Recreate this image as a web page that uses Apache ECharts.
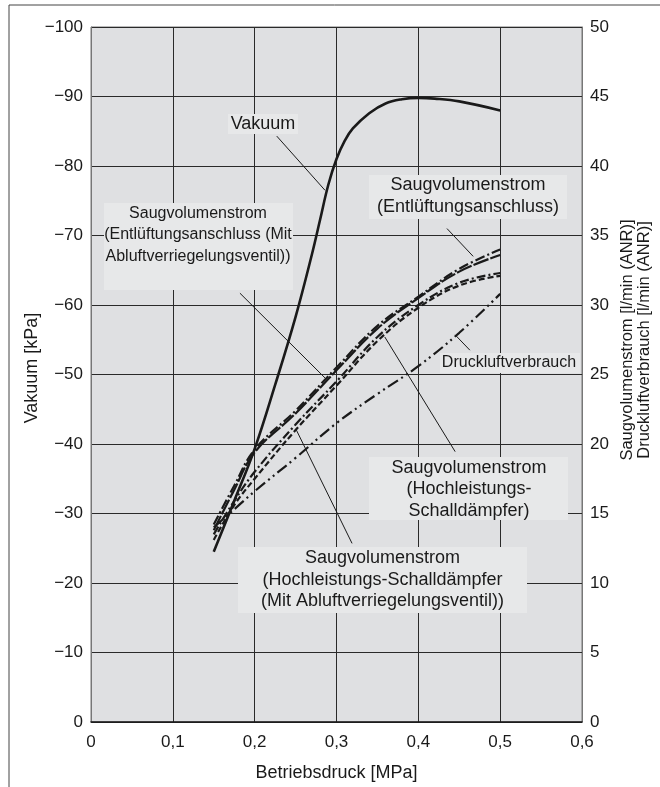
<!DOCTYPE html>
<html>
<head>
<meta charset="utf-8">
<script src="https://cdn.jsdelivr.net/npm/echarts@6/dist/echarts.min.js"></script>
<style>
  html, body { margin: 0; padding: 0; background: #fff; }
  #chart { width: 660px; height: 787px; }
</style>
</head>
<body>
<div id="chart"></div>
<script>
// Betriebsdruck [MPa]
const vakPressure = [0.15, 0.175, 0.2, 0.225, 0.25, 0.27, 0.28, 0.29, 0.3, 0.31, 0.32, 0.34, 0.36, 0.38, 0.4, 0.42, 0.45, 0.5];
// Vakuum [kPa]
const vakuum = [-24.5, -31.8, -39.3, -48.5, -58.3, -67.3, -72.3, -77.3, -81, -83.6, -85.4, -87.6, -89, -89.6, -89.8, -89.7, -89.3, -88];

// Saugvolumenstrom / Druckluftverbrauch [l/min (ANR)]
const flowPressure = [0.15, 0.175, 0.2, 0.25, 0.3, 0.35, 0.4, 0.45, 0.5];
const saugEntl = [14.2, 17.0, 19.6, 22.4, 25.5, 28.5, 30.6, 32.6, 34.0];
const saugEntlVentil = [13.8, 16.7, 19.4, 22.2, 25.3, 28.3, 30.5, 32.4, 33.6];
const saugHoch = [13.5, 15.9, 18.0, 21.4, 24.5, 27.7, 30.0, 31.6, 32.3];
const saugHochVentil = [13.1, 15.6, 17.5, 21.0, 24.2, 27.4, 29.8, 31.4, 32.1];
const druckluft = [14.0, 15.3, 16.6, 19.0, 21.5, 23.6, 25.6, 28.0, 30.8];

const xTicks = [0, 0.1, 0.2, 0.3, 0.4, 0.5, 0.6];

const pair = (xs, ys) => xs.map((x, i) => [x, ys[i]]);
const FONT = '"Liberation Sans", Arial, sans-serif';
const INK = '#1a1a1a';

const chart = echarts.init(document.getElementById('chart'));

const flowLine = (name, data, dash) => ({
  name,
  type: 'line',
  yAxisIndex: 1,
  data,
  smooth: 0.4,
  symbol: 'none',
  lineStyle: { color: INK, width: 2.2, type: dash },
  z: 3
});

// Text boxes of the annotations (pixel layout)
const box = (x, y, w, h) => ({
  type: 'rect', z: 1,
  shape: { x, y, width: w, height: h },
  style: { fill: '#e7e8e9' }
});
const label = (cx, cy, text, size, lh) => ({
  type: 'text', z: 2,
  x: cx, y: cy,
  style: {
    text, fill: INK, font: size + 'px ' + FONT,
    align: 'center', verticalAlign: 'middle', lineHeight: lh
  }
});

const option = {
  animation: false,
  backgroundColor: '#fff',
  grid: {
    left: 91, right: 78, top: 27, bottom: 65,
    show: true, backgroundColor: '#dfe0e2', borderColor: '#777', borderWidth: 1
  },
  xAxis: {
    type: 'value', min: 0, max: 0.6, interval: 0.1,
    name: 'Betriebsdruck [MPa]', nameLocation: 'middle', nameGap: 42,
    nameTextStyle: { color: INK, fontSize: 18, fontFamily: FONT },
    axisLine: { show: true, lineStyle: { color: INK, width: 1.5 } },
    axisTick: { show: false },
    axisLabel: {
      color: INK, fontSize: 17, fontFamily: FONT, margin: 12,
      formatter: v => (v === 0 ? '0' : v.toFixed(1).replace('.', ','))
    },
    splitLine: { show: true, lineStyle: { color: '#2a2a2a', width: 1 } }
  },
  yAxis: [
    {
      type: 'value', min: -100, max: 0, interval: 10, inverse: true,
      axisLine: { show: true, lineStyle: { color: '#777' } },
      axisTick: { show: false },
      axisLabel: {
        color: INK, fontSize: 17, fontFamily: FONT, margin: 8,
        formatter: v => (v === 0 ? '0' : String(v).replace('-', '\u2212'))
      },
      splitLine: { show: true, lineStyle: { color: '#2a2a2a', width: 1 } }
    },
    {
      type: 'value', min: 0, max: 50, interval: 5, position: 'right',
      axisLine: { show: true, lineStyle: { color: '#777' } },
      axisTick: { show: false },
      axisLabel: { color: INK, fontSize: 17, fontFamily: FONT, margin: 8 },
      splitLine: { show: false }
    }
  ],
  series: [
    {
      name: 'Vakuum',
      type: 'line',
      yAxisIndex: 0,
      data: pair(vakPressure, vakuum),
      smooth: 0.4,
      symbol: 'none',
      lineStyle: { color: INK, width: 2.6 },
      z: 3,
      // pointer lines from the annotation boxes, in kPa / MPa
      markLine: {
        silent: true,
        symbol: 'none',
        label: { show: false },
        lineStyle: { color: INK, width: 1, type: 'solid' },
        data: [
          [{ coord: [0.227, -84.3] }, { coord: [0.286, -76.5] }],
          [{ coord: [0.435, -71.0] }, { coord: [0.467, -67.0] }],
          [{ coord: [0.182, -61.7] }, { coord: [0.286, -49.5] }],
          [{ coord: [0.463, -53.5] }, { coord: [0.445, -55.7] }],
          [{ coord: [0.445, -38.9] }, { coord: [0.359, -55.4] }],
          [{ coord: [0.319, -25.7] }, { coord: [0.251, -42.0] }]
        ]
      }
    },
    flowLine('Saugvolumenstrom (Entlüftungsanschluss)', pair(flowPressure, saugEntl), [10, 3, 2, 3]),
    flowLine('Saugvolumenstrom (Entlüftungsanschluss, Mit Abluftverriegelungsventil)', pair(flowPressure, saugEntlVentil), [16, 2]),
    flowLine('Saugvolumenstrom (Hochleistungs-Schalldämpfer)', pair(flowPressure, saugHoch), [9, 3, 2, 3]),
    flowLine('Saugvolumenstrom (Hochleistungs-Schalldämpfer, Mit Abluftverriegelungsventil)', pair(flowPressure, saugHochVentil), [6, 3]),
    flowLine('Druckluftverbrauch', pair(flowPressure, druckluft), [12, 4, 2, 4, 2, 4])
  ],
  graphic: [
    // outer frame
    { type: 'line', shape: { x1: 9, y1: 5, x2: 660, y2: 5 }, style: { stroke: '#444', lineWidth: 1 } },
    { type: 'line', shape: { x1: 9, y1: 5, x2: 9, y2: 787 }, style: { stroke: '#444', lineWidth: 1 } },

    box(228, 114, 70, 20),
    label(263, 124, 'Vakuum', 18, 22),

    box(369, 175, 198, 44),
    label(468, 196, 'Saugvolumenstrom\n(Entlüftungsanschluss)', 18, 22),

    box(104, 203, 189, 87),
    label(198, 235, 'Saugvolumenstrom\n(Entlüftungsanschluss (Mit\nAbluftverriegelungsventil))', 16, 21.7),

    box(440, 353, 140, 20),
    label(509, 363, 'Druckluftverbrauch', 16, 20),

    box(369, 457, 199, 63),
    label(469, 489.5, 'Saugvolumenstrom\n(Hochleistungs-\nSchalldämpfer)', 18, 21.5),

    box(238, 547, 289, 66),
    label(382.5, 580, 'Saugvolumenstrom\n(Hochleistungs-Schalldämpfer\n(Mit Abluftverriegelungsventil))', 18, 21.5),

    // axis titles
    {
      type: 'text', x: 32, y: 368, rotation: Math.PI / 2,
      style: { text: 'Vakuum [kPa]', fill: INK, font: '18px ' + FONT, align: 'center', verticalAlign: 'middle' }
    },
    {
      type: 'text', x: 636, y: 340, rotation: Math.PI / 2,
      style: {
        text: 'Saugvolumenstrom [l/min (ANR)]\nDruckluftverbrauch [l/min (ANR)]',
        fill: INK, font: '16.5px ' + FONT, align: 'center', verticalAlign: 'middle', lineHeight: 17
      }
    }
  ]
};

chart.setOption(option);
window.addEventListener('resize', () => chart.resize());
</script>
</body>
</html>
